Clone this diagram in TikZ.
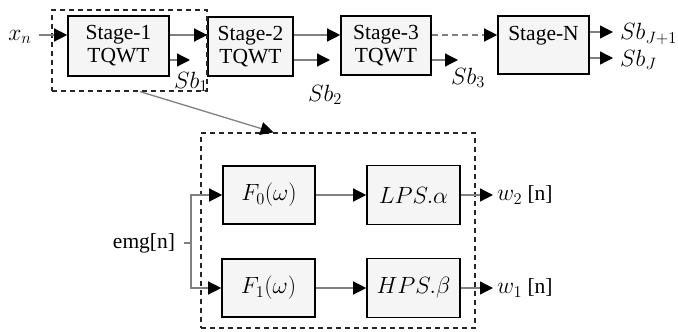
\RequirePackage{fix-cm}
\documentclass[tikz,border=0pt]{standalone}
\usepackage{fontspec}
\setmainfont{Liberation Serif}
\newfontfamily\txtfont{Liberation Serif}
\usetikzlibrary{arrows.meta,calc}
% larger math for the labels
\newcommand{\mth}[1]{{\fontsize{23.5}{25}\selectfont$#1$}}
\begin{document}
\begin{tikzpicture}[x=1pt,y=-1pt,
  font=\txtfont\fontsize{21.5}{23}\selectfont,
  blk/.style={draw=black,line width=1.6pt,fill=black!4,inner sep=0pt,align=center},
  wire/.style={draw=black!50,line width=1.3pt},
  tip/.style={wire,-{Triangle[length=13pt,width=13pt,color=black]}},
  frame/.style={draw=black!85,line width=1.3pt,dash pattern=on 5pt off 4pt,inner sep=0pt},
  lbl/.style={inner sep=0pt}]
\useasboundingbox (0,0) rectangle (678,332);

% rows of the stage chain
\coordinate (ra) at (0,35);
\coordinate (rb) at (0,60);

% TQWT stages
\node[blk,minimum width=101pt,minimum height=60pt] (s1) at (118.5,46) {Stage-1\\TQWT};
\node[blk,minimum width=85pt,minimum height=59pt] (s2) at (250.5,46.5) {Stage-2\\TQWT};
\node[blk,minimum width=90pt,minimum height=59pt] (s3) at (386,45.5) {Stage-3\\TQWT};
\node[blk,minimum width=91pt,minimum height=58pt] (sN) at (543.5,45) {Stage-N\\\mbox{}};

% group frames
\node[frame,minimum width=155pt,minimum height=81pt] (g1) at (129.5,50.5) {};
\node[frame,minimum width=274pt,minimum height=195pt] (g2) at (338,230.5) {};

% labels of the chain
\node[lbl] (xn) at (20,37) {\mth{x_n}};
\node[lbl] (sb1) at (191,82) {\mth{Sb_1}};
\node[lbl] (sb2) at (325,95) {\mth{Sb_2}};
\node[lbl] (sb3) at (468,78) {\mth{Sb_3}};
\node[lbl,anchor=west] (sbj1) at (620,34) {\mth{Sb_{J{+}1}}};
\node[lbl,anchor=west] (sbj) at (620,60) {\mth{Sb_J}};

\coordinate (e1) at (190,60);
\coordinate (e2) at (330,60);
\coordinate (e3) at (458,60);
\coordinate (ej1) at (613,32);
\coordinate (ej) at (613,58);

% chain connectors
\draw[tip,shorten <=7pt] (xn.east |- ra) -- (s1.west |- ra);
\draw[tip] (s1.east |- ra) -- (s2.west |- ra);
\draw[tip] (s2.east |- ra) -- (s3.west |- ra);
\draw[tip,dash pattern=on 6pt off 4pt] (s3.east |- ra) -- (sN.west |- ra);
\draw[tip] (s1.east |- rb) -- (e1);
\draw[tip] (s2.east |- rb) -- (e2);
\draw[tip] (s3.east |- rb) -- (e3);
\draw[tip] (sN.east |- ej1) -- (ej1);
\draw[tip] (sN.east |- ej) -- (ej);

% zoom link from stage 1 to its detail
\draw[tip] ($(g1.south west)!0.568!(g1.south east)$) -- ($(g2.north west)!0.266!(g2.north east)$);

% inner structure of a stage
\node[blk,minimum width=92pt,minimum height=58pt] (f0) at (269,195) {\mth{F_0(\omega)}};
\node[blk,minimum width=93pt,minimum height=59pt] (lps) at (413.5,195) {\mth{LPS.\alpha}};
\node[blk,minimum width=93pt,minimum height=58pt] (f1) at (268.5,288) {\mth{F_1(\omega)}};
\node[blk,minimum width=93pt,minimum height=59pt] (hps) at (413.5,288) {\mth{HPS.\beta}};

\node[lbl] (emg) at (144,243) {emg[n]};
\node[lbl,anchor=west] (w2) at (497,195) {\mth{w_2} [n]};
\node[lbl,anchor=west] (w1) at (497,288) {\mth{w_1} [n]};

\coordinate (br) at (191,243);
\draw[wire,shorten <=9pt] (emg.east) -- (br);
\draw[tip] (br) |- (f0.west);
\draw[tip] (br) |- (f1.west);
\draw[tip] (f0) -- (lps);
\draw[tip] (f1) -- (hps);
\draw[tip,shorten >=4pt] (lps.east) -- (w2.west);
\draw[tip,shorten >=4pt] (hps.east) -- (w1.west);
\end{tikzpicture}
\end{document}
